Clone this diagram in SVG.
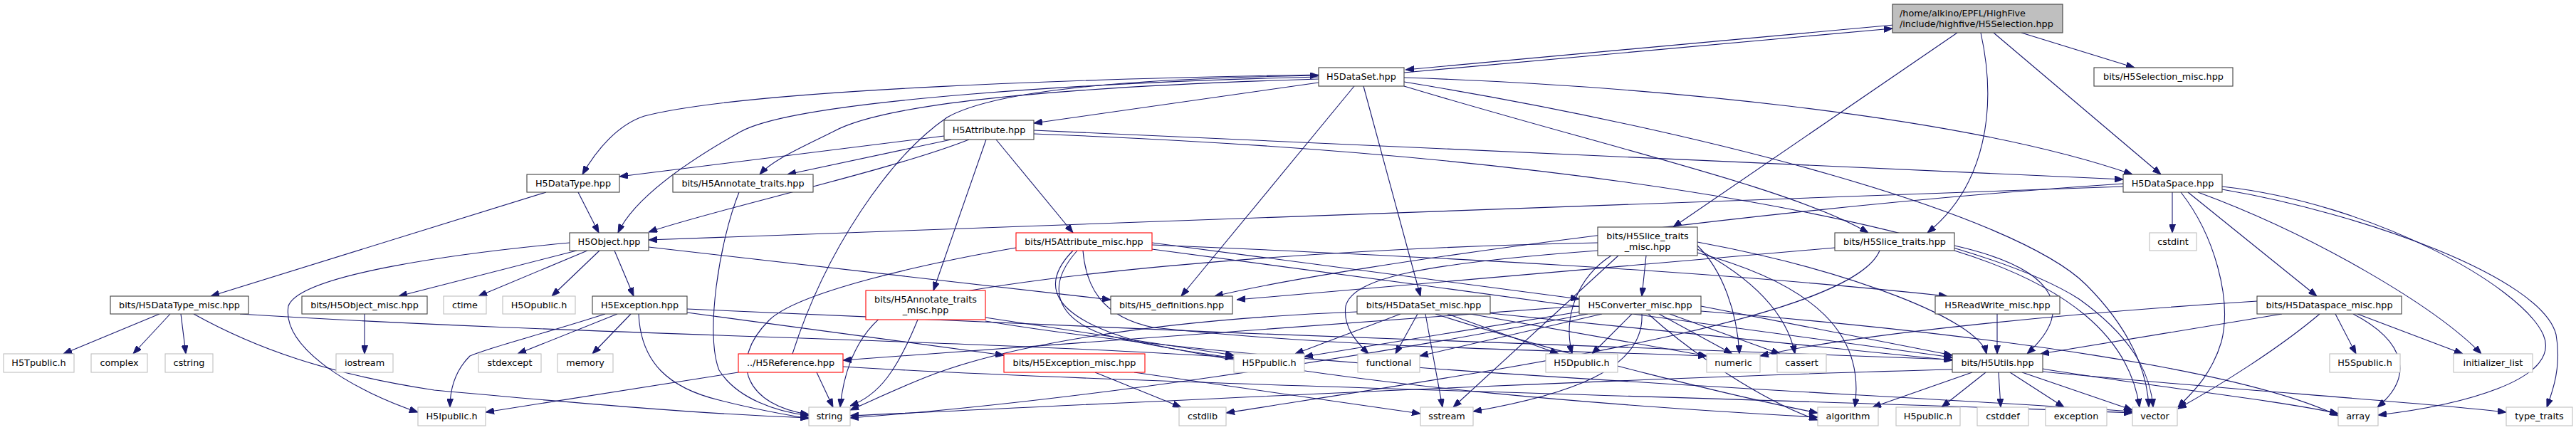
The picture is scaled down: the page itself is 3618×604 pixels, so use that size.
<svg xmlns="http://www.w3.org/2000/svg" width="3618" height="604" viewBox="0 0 3618 604">
<style>
rect{fill:#fff;stroke:#404040;stroke-width:1.1}
.g rect{stroke:#bfbfbf}
.r rect{stroke:#ff0000}
.root rect{fill:#bfbfbf;stroke:#404040}
text{font-family:"DejaVu Sans","Liberation Sans",sans-serif;font-size:12.8px;fill:#000;text-anchor:middle}
.root text{text-anchor:start}
#edges path{fill:none;stroke:#191970;stroke-width:1.1;marker-end:url(#a)}
</style>
<defs>
<marker id="a" viewBox="0 0 12 9" refX="12" refY="4.5" markerWidth="12" markerHeight="9" markerUnits="userSpaceOnUse" orient="auto"><path d="M0,0 L12,4.5 L0,9 z" fill="#191970" stroke="#191970" stroke-width="1"/></marker>
</defs>
<rect x="0" y="0" width="3618" height="604" style="fill:#fff;stroke:none"/>
<g id="edges">
<path d="M2660,35 L1974,98"/>
<path d="M1972,102 L2658,40"/>
<path d="M2749,46 L2350,319"/>
<path d="M2782,46 C2805,150 2790,260 2707,327"/>
<path d="M2800,46 L3035,245"/>
<path d="M2839,46 L2998,95"/>
<path d="M1852,116 L1452,173"/>
<path d="M1852,105 C1550,110 1050,125 905,163 C868,175 838,210 818,245"/>
<path d="M1852,111 C1550,120 1250,140 1170,185 C1120,210 1085,225 1067,245"/>
<path d="M1852,108 C1550,115 1120,140 1040,185 C960,230 890,280 868,327"/>
<path d="M1902,121 L1659,416"/>
<path d="M1915,121 L1995,416"/>
<path d="M1972,109 C2300,120 2750,160 2995,245"/>
<path d="M1972,121 C2250,205 2520,265 2624,327"/>
<path d="M1972,115 C2400,185 2830,300 2930,400 C2990,460 3016,520 3018,572"/>
<path d="M1326,191 L870,248"/>
<path d="M1336,196 L1106,245"/>
<path d="M1361,196 C1250,240 1000,295 911,326"/>
<path d="M1385,196 L1311,408"/>
<path d="M1399,196 L1507,327"/>
<path d="M1452,183 L2982,252"/>
<path d="M1452,188 C2300,220 2780,330 2920,420 C2990,470 3020,520 3024,572"/>
<path d="M812,270 L841,327"/>
<path d="M767,270 L296,416"/>
<path d="M1038,270 C1010,340 990,470 1010,520 C1035,560 1090,578 1136,584"/>
<path d="M2982,262 L911,337"/>
<path d="M2982,258 C2500,290 1900,370 1706,416"/>
<path d="M3051,270 L3051,327"/>
<path d="M3063,270 C3110,330 3135,420 3120,480 C3105,530 3075,555 3059,572"/>
<path d="M3073,270 L3254,416"/>
<path d="M3087,270 C3250,330 3420,430 3485,497"/>
<path d="M3121,262 C3330,285 3540,400 3572,470 C3600,535 3450,570 3340,583"/>
<path d="M3121,266 C3320,300 3570,390 3590,470 C3598,515 3585,550 3577,572"/>
<path d="M800,341 C650,355 420,385 405,430 C395,490 500,550 587,579"/>
<path d="M810,352 L560,416"/>
<path d="M825,352 L672,416"/>
<path d="M842,352 L775,416"/>
<path d="M863,352 L890,416"/>
<path d="M911,347 L1560,421"/>
<path d="M512,441 L512,497"/>
<path d="M224,441 L89,497"/>
<path d="M239,441 L187,497"/>
<path d="M254,441 L261,497"/>
<path d="M272,441 C360,490 460,525 610,548 C850,570 1000,582 1136,587"/>
<path d="M337,441 C800,470 1300,475 1733,502"/>
<path d="M850,441 C760,470 680,490 660,500 C640,520 632,545 632,572"/>
<path d="M867,441 L727,497"/>
<path d="M886,441 L832,497"/>
<path d="M897,441 C900,510 940,545 1010,562 C1060,575 1100,582 1136,588"/>
<path d="M965,439 L1410,499"/>
<path d="M965,434 C1500,460 2300,490 2742,505"/>
<path d="M1289,449 C1260,520 1235,555 1194,570"/>
<path d="M1384,446 L1733,499"/>
<path d="M1384,451 C1800,520 2500,545 2995,578"/>
<path d="M1427,348 C1300,370 1120,410 1080,450 C1020,510 1050,570 1136,582"/>
<path d="M1618,341 L2218,420"/>
<path d="M1618,344 C2000,360 2400,380 2735,416"/>
<path d="M1618,350 C2000,400 2500,470 2742,502"/>
<path d="M1513,352 C1470,400 1480,445 1550,470 C1620,487 1680,495 1733,503"/>
<path d="M1521,352 C1525,400 1545,445 1620,460 C1900,490 2200,492 2397,500"/>
<path d="M1507,352 C1460,400 1475,445 1600,480 C1900,545 2300,572 2553,586"/>
<path d="M2244,341 C1800,350 1400,390 1260,430 C1205,460 1185,520 1180,572"/>
<path d="M2244,352 C2000,370 1900,390 1890,430 C1886,460 1905,480 1922,497"/>
<path d="M2312,359 L2306,416"/>
<path d="M2263,359 C2215,390 2195,445 2208,497"/>
<path d="M2273,359 L2041,572"/>
<path d="M2384,345 C2420,380 2440,440 2443,497"/>
<path d="M2384,350 C2460,390 2510,440 2521,497"/>
<path d="M2384,355 C2550,400 2620,470 2605,572"/>
<path d="M2384,340 C2600,380 2780,450 2790,497"/>
<path d="M2577,348 L1737,421"/>
<path d="M2745,345 C2900,380 2910,440 2847,497"/>
<path d="M2745,352 C2900,400 2990,470 3005,572"/>
<path d="M2640,352 C2600,450 2100,520 1722,580"/>
<path d="M1906,438 C1600,450 1400,490 1300,530 C1250,550 1220,565 1194,576"/>
<path d="M1967,441 L1819,497"/>
<path d="M1991,441 L1960,497"/>
<path d="M2002,441 L2026,572"/>
<path d="M2016,441 C2200,500 2450,560 2553,580"/>
<path d="M2033,441 L2189,497"/>
<path d="M2065,441 L2397,500"/>
<path d="M2093,440 L2742,506"/>
<path d="M2218,430 C1800,460 1400,492 1184,506"/>
<path d="M2218,438 L1832,501"/>
<path d="M2250,441 L1994,500"/>
<path d="M2292,441 L2236,497"/>
<path d="M2306,441 C2310,520 2200,555 2069,578"/>
<path d="M2230,441 C1900,505 1500,565 1194,587"/>
<path d="M2330,441 L2433,497"/>
<path d="M2345,441 L2500,497"/>
<path d="M2315,441 C2380,500 2480,565 2553,590"/>
<path d="M2389,430 L2742,499"/>
<path d="M2389,437 C2800,470 3150,520 3284,584"/>
<path d="M2805,441 L2805,497"/>
<path d="M3205,441 L2866,497"/>
<path d="M3170,423 C2900,440 2600,470 2472,500"/>
<path d="M3258,441 C3200,490 3120,540 3059,574"/>
<path d="M3280,441 L3309,497"/>
<path d="M3305,441 C3380,480 3390,530 3339,572"/>
<path d="M3311,441 L3459,497"/>
<path d="M2742,519 C2300,530 1600,565 1194,584"/>
<path d="M2770,523 L2630,572"/>
<path d="M2789,523 L2727,572"/>
<path d="M2807,523 L2810,572"/>
<path d="M2823,523 L2899,572"/>
<path d="M2840,523 L2995,576"/>
<path d="M2869,518 C3000,540 3200,562 3284,581"/>
<path d="M2869,522 C3100,545 3400,565 3520,579"/>
<path d="M1538,523 L1659,572"/>
<path d="M1593,523 L1995,581"/>
<path d="M1037,523 L682,579"/>
<path d="M1147,523 L1170,572"/>
<path d="M1113,497 C1160,350 1250,220 1330,165 C1400,125 1600,110 1852,106"/>
<path d="M1184,515 C1600,540 2500,560 2995,580"/>
</g>
<g id="n0" class="root"><rect x="2658" y="6" width="239" height="40"/><text x="2668" y="22.5">/home/alkino/EPFL/HighFive</text><text x="2668" y="37.5">/include/highfive/H5Selection.hpp</text></g>
<g id="n1"><rect x="1852" y="95" width="120" height="26"/><text x="1912" y="112">H5DataSet.hpp</text></g>
<g id="n2"><rect x="2941" y="95" width="195" height="26"/><text x="3038.5" y="112">bits/H5Selection_misc.hpp</text></g>
<g id="n3"><rect x="1326" y="169" width="126" height="27"/><text x="1389" y="187">H5Attribute.hpp</text></g>
<g id="n4"><rect x="740" y="245" width="130" height="25"/><text x="805" y="262">H5DataType.hpp</text></g>
<g id="n5"><rect x="945" y="245" width="197" height="25"/><text x="1043.5" y="262">bits/H5Annotate_traits.hpp</text></g>
<g id="n6"><rect x="2982" y="245" width="139" height="25"/><text x="3051.5" y="262">H5DataSpace.hpp</text></g>
<g id="n7"><rect x="800" y="327" width="111" height="25"/><text x="855.5" y="344">H5Object.hpp</text></g>
<g id="n8" class="r"><rect x="1427" y="327" width="191" height="25"/><text x="1522.5" y="344">bits/H5Attribute_misc.hpp</text></g>
<g id="n9"><rect x="2244" y="319" width="140" height="40"/><text x="2314" y="336">bits/H5Slice_traits</text><text x="2314" y="351">_misc.hpp</text></g>
<g id="n10"><rect x="2577" y="327" width="168" height="25"/><text x="2661" y="344">bits/H5Slice_traits.hpp</text></g>
<g id="n11" class="g"><rect x="3019" y="327" width="66" height="25"/><text x="3052" y="344">cstdint</text></g>
<g id="n12" class="r"><rect x="1216" y="408" width="168" height="41"/><text x="1300" y="425">bits/H5Annotate_traits</text><text x="1300" y="440">_misc.hpp</text></g>
<g id="n13"><rect x="155" y="416" width="194" height="25"/><text x="252" y="433">bits/H5DataType_misc.hpp</text></g>
<g id="n14"><rect x="424" y="416" width="176" height="25"/><text x="512" y="433">bits/H5Object_misc.hpp</text></g>
<g id="n15" class="g"><rect x="623" y="416" width="60" height="25"/><text x="653" y="433">ctime</text></g>
<g id="n16" class="g"><rect x="706" y="416" width="102" height="25"/><text x="757" y="433">H5Opublic.h</text></g>
<g id="n17"><rect x="832" y="416" width="133" height="25"/><text x="898.5" y="433">H5Exception.hpp</text></g>
<g id="n18"><rect x="1560" y="416" width="171" height="25"/><text x="1645.5" y="433">bits/H5_definitions.hpp</text></g>
<g id="n19"><rect x="1906" y="416" width="187" height="25"/><text x="1999.5" y="433">bits/H5DataSet_misc.hpp</text></g>
<g id="n20"><rect x="2218" y="416" width="171" height="25"/><text x="2303.5" y="433">H5Converter_misc.hpp</text></g>
<g id="n21"><rect x="2718" y="416" width="175" height="25"/><text x="2805.5" y="433">H5ReadWrite_misc.hpp</text></g>
<g id="n22"><rect x="3170" y="416" width="203" height="25"/><text x="3271.5" y="433">bits/H5Dataspace_misc.hpp</text></g>
<g id="n23" class="g"><rect x="5" y="497" width="99" height="26"/><text x="54.5" y="514">H5Tpublic.h</text></g>
<g id="n24" class="g"><rect x="128" y="497" width="79" height="26"/><text x="167.5" y="514">complex</text></g>
<g id="n25" class="g"><rect x="232" y="497" width="67" height="26"/><text x="265.5" y="514">cstring</text></g>
<g id="n26" class="g"><rect x="472" y="497" width="80" height="26"/><text x="512" y="514">iostream</text></g>
<g id="n27" class="g"><rect x="672" y="497" width="88" height="26"/><text x="716" y="514">stdexcept</text></g>
<g id="n28" class="g"><rect x="783" y="497" width="78" height="26"/><text x="822" y="514">memory</text></g>
<g id="n29" class="r"><rect x="1037" y="497" width="147" height="26"/><text x="1110.5" y="514">../H5Reference.hpp</text></g>
<g id="n30" class="r"><rect x="1410" y="497" width="198" height="26"/><text x="1509" y="514">bits/H5Exception_misc.hpp</text></g>
<g id="n31" class="g"><rect x="1733" y="497" width="99" height="26"/><text x="1782.5" y="514">H5Ppublic.h</text></g>
<g id="n32" class="g"><rect x="1907" y="497" width="87" height="26"/><text x="1950.5" y="514">functional</text></g>
<g id="n33" class="g"><rect x="2171" y="497" width="101" height="26"/><text x="2221.5" y="514">H5Dpublic.h</text></g>
<g id="n34" class="g"><rect x="2397" y="497" width="75" height="26"/><text x="2434.5" y="514">numeric</text></g>
<g id="n35" class="g"><rect x="2496" y="497" width="69" height="26"/><text x="2530.5" y="514">cassert</text></g>
<g id="n36"><rect x="2742" y="497" width="127" height="26"/><text x="2805.5" y="514">bits/H5Utils.hpp</text></g>
<g id="n37" class="g"><rect x="3272" y="497" width="99" height="26"/><text x="3321.5" y="514">H5Spublic.h</text></g>
<g id="n38" class="g"><rect x="3446" y="497" width="111" height="26"/><text x="3501.5" y="514">initializer_list</text></g>
<g id="n39" class="g"><rect x="587" y="572" width="95" height="26"/><text x="634.5" y="589">H5Ipublic.h</text></g>
<g id="n40" class="g"><rect x="1136" y="572" width="58" height="26"/><text x="1165" y="589">string</text></g>
<g id="n41" class="g"><rect x="1656" y="572" width="66" height="26"/><text x="1689" y="589">cstdlib</text></g>
<g id="n42" class="g"><rect x="1995" y="572" width="74" height="26"/><text x="2032" y="589">sstream</text></g>
<g id="n43" class="g"><rect x="2553" y="572" width="85" height="26"/><text x="2595.5" y="589">algorithm</text></g>
<g id="n44" class="g"><rect x="2663" y="572" width="90" height="26"/><text x="2708" y="589">H5public.h</text></g>
<g id="n45" class="g"><rect x="2777" y="572" width="72" height="26"/><text x="2813" y="589">cstddef</text></g>
<g id="n46" class="g"><rect x="2873" y="572" width="86" height="26"/><text x="2916" y="589">exception</text></g>
<g id="n47" class="g"><rect x="2995" y="572" width="63" height="26"/><text x="3026.5" y="589">vector</text></g>
<g id="n48" class="g"><rect x="3284" y="572" width="56" height="26"/><text x="3312" y="589">array</text></g>
<g id="n49" class="g"><rect x="3520" y="572" width="93" height="26"/><text x="3566.5" y="589">type_traits</text></g>
</svg>
